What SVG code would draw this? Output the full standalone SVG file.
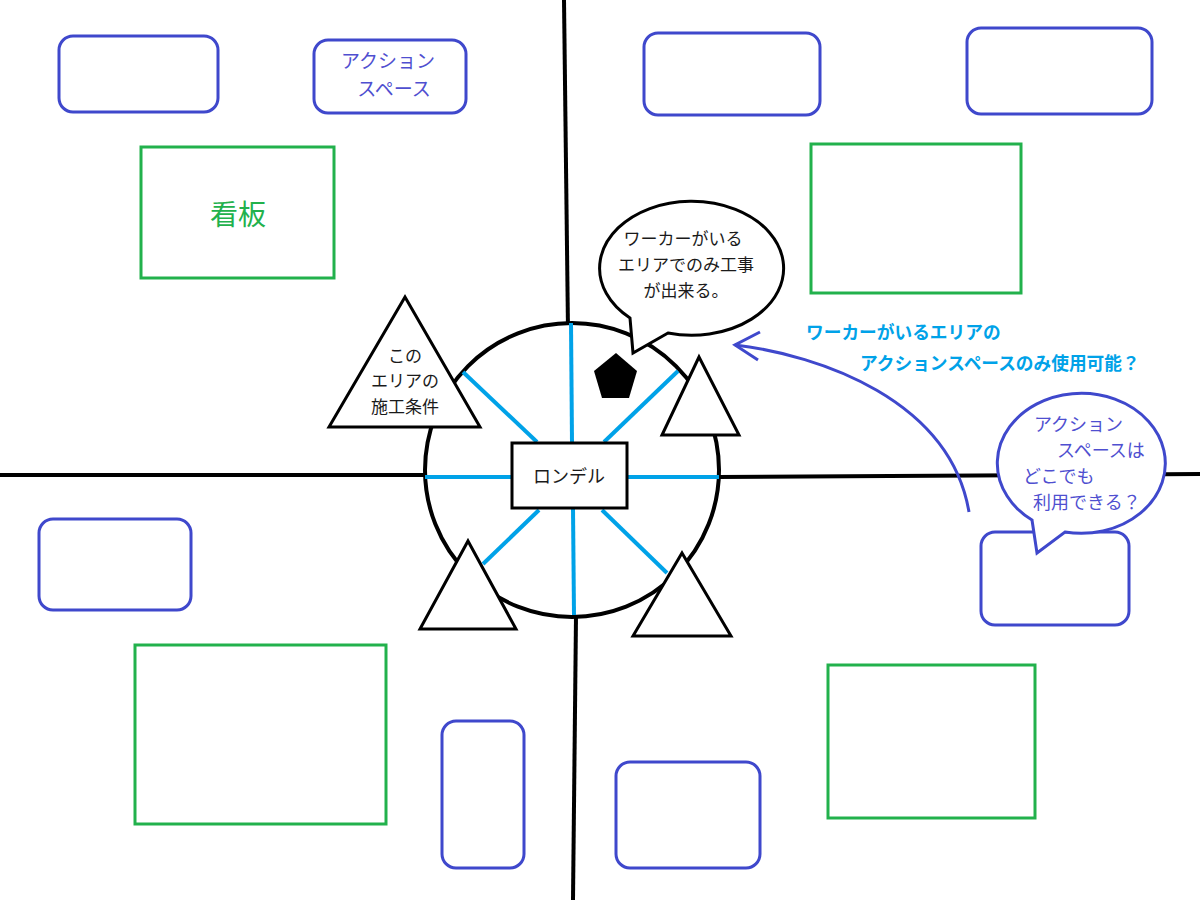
<svg xmlns="http://www.w3.org/2000/svg" width="1200" height="900" viewBox="0 0 1200 900">
<style>
text{font-family:"Noto Sans CJK JP","Noto Sans",sans-serif;}
.axis{stroke:#000;stroke-width:4;fill:none;stroke-linecap:butt}
.bbox{fill:#fff;stroke:#3f48cc;stroke-width:3}
.gbox{fill:#fff;stroke:#22b14c;stroke-width:3}
.spoke{stroke:#00a2e8;stroke-width:4;fill:none}
.tri{fill:#fff;stroke:#000;stroke-width:3;stroke-linejoin:miter}
.blk{fill:#1a1a1a;font-size:17px;text-anchor:middle}
.pur{fill:#4f4fd0;font-size:18px}
.cyan{fill:#00a2e8;font-size:17.7px;font-weight:bold}
</style>
<rect width="1200" height="900" fill="#fff"/>
<g id="axes">
<path class="axis" d="M564,0 L568,330"/>
<path class="axis" d="M576,616 L573,900"/>
<path class="axis" d="M0,475 L426,475"/>
<path class="axis" d="M718,477 L1200,474"/>
</g>
<g id="box-tl1"><rect class="bbox" x="59" y="36" width="159" height="76" rx="14"/></g>
<g id="box-action"><rect class="bbox" x="314" y="40" width="152" height="73" rx="14"/>
<text class="pur" x="388" y="68" text-anchor="middle" style="font-size:19px">アクション</text>
<text class="pur" x="394" y="96" text-anchor="middle" style="font-size:19px">スペース</text></g>
<g id="box-tr1"><rect class="bbox" x="644" y="33" width="176" height="82" rx="14"/></g>
<g id="box-tr2"><rect class="bbox" x="967" y="28" width="185" height="86" rx="14"/></g>
<g id="box-ml"><rect class="bbox" x="39" y="519" width="152" height="91" rx="14"/></g>
<g id="box-b1"><rect class="bbox" x="442" y="721" width="82" height="147" rx="14"/></g>
<g id="box-b2"><rect class="bbox" x="616" y="762" width="144" height="106" rx="14"/></g>
<g id="box-r"><rect class="bbox" x="981" y="532" width="148" height="93" rx="14"/></g>
<g id="sign"><rect class="gbox" x="141" y="147" width="193" height="131"/>
<text x="238" y="225" text-anchor="middle" style="font-size:28px;fill:#22b14c">看板</text></g>
<g id="green-tr"><rect class="gbox" x="811" y="144" width="210" height="149"/></g>
<g id="green-bl"><rect class="gbox" x="135" y="645" width="251" height="179"/></g>
<g id="green-br"><rect class="gbox" x="828" y="665" width="207" height="153"/></g>
<g id="rondel">
<circle cx="572" cy="470" r="147" fill="#fff" stroke="#000" stroke-width="4"/>
<g id="spokes">
<path class="spoke" d="M571,323 L572,443"/>
<path class="spoke" d="M573,508 L574,615"/>
<path class="spoke" d="M425,477 L512,477"/>
<path class="spoke" d="M627,477 L719,477"/>
<path class="spoke" d="M463,372 L537,442"/>
<path class="spoke" d="M678,371 L604,442"/>
<path class="spoke" d="M539,510 L483,564"/>
<path class="spoke" d="M602,510 L667,573"/>
</g>
<rect x="512" y="443" width="115" height="65" fill="#fff" stroke="#000" stroke-width="3"/>
<text x="569" y="483" style="font-size:18px;fill:#1a1a1a;text-anchor:middle">ロンデル</text>
</g>
<g id="pentagon"><polygon points="616,353 637,371 629,398 602,398 594,371" fill="#000"/></g>
<g id="tri-cond"><polygon class="tri" points="405,297 480,427 329,427"/>
<text class="blk" x="405" y="362">この</text>
<text class="blk" x="405" y="387">エリアの</text>
<text class="blk" x="405" y="413">施工条件</text></g>
<g id="tri-ur"><polygon class="tri" points="699,357 739,435 662,435"/></g>
<g id="tri-ll"><polygon class="tri" points="468,541 516,629 420,629"/></g>
<g id="tri-lr"><polygon class="tri" points="682,553 731,636 633,636"/></g>
<g id="bubble-top">
<path d="M630,318 A92,67 0 1 1 668,333 L633,353 Z" fill="#fff" stroke="#000" stroke-width="3" stroke-linejoin="miter"/>
<text class="blk" x="683" y="245">ワーカーがいる</text>
<text class="blk" x="686" y="271">エリアでのみ工事</text>
<text class="blk" x="686" y="297">が出来る。</text>
</g>
<g id="note-cyan">
<text class="cyan" x="806" y="339">ワーカーがいるエリアの</text>
<text class="cyan" x="860" y="370">アクションスペースのみ使用可能？</text>
</g>
<g id="connectors">
<path d="M969,512 C950,400 820,355 735,345" fill="none" stroke="#3f48cc" stroke-width="3"/>
<path d="M760,332 L735,345 L758,360" fill="none" stroke="#3f48cc" stroke-width="3"/>
</g>
<g id="bubble-right">
<path d="M1032,520 A84,70 0 1 1 1065,532 L1037,553 Z" fill="#fff" stroke="#3f48cc" stroke-width="3"/>
<text class="pur" x="1034" y="431">アクション</text>
<text class="pur" x="1057" y="457">スペースは</text>
<text class="pur" x="1023" y="483">どこでも</text>
<text class="pur" x="1033" y="509">利用できる？</text>
</g>
</svg>
